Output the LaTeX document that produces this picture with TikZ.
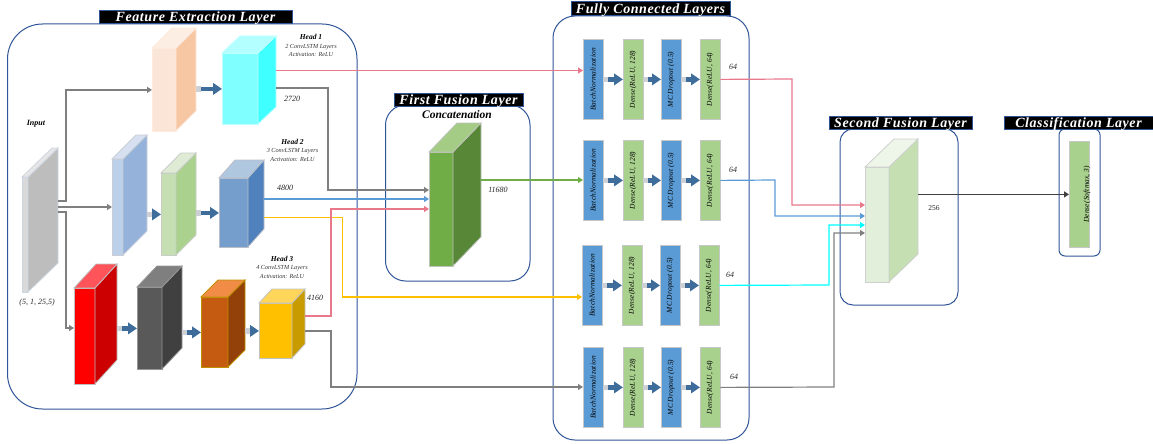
\documentclass[tikz,border=0pt]{standalone}
\usepackage{xcolor}
\usepackage{fontspec}
\setmainfont{Liberation Serif}
\usetikzlibrary{arrows.meta}

\definecolor {frame}   {RGB}{ 47,  85, 151}
\definecolor {pinkline}{RGB}{232, 120, 138}
\definecolor {blueline}{RGB}{ 91, 155, 213}
\definecolor {yellline}{RGB}{255, 192,   0}
\definecolor {cyanline}{RGB}{  0, 255, 255}
\definecolor {grayline}{RGB}{127, 127, 127}
\definecolor {darkline}{RGB}{ 64,  64,  64}
\definecolor {greenline}{RGB}{112, 173, 71}
\definecolor {flowblue}{RGB}{ 62, 109, 156}
\definecolor {flowtail}{RGB}{205, 208, 212}
\definecolor {fcblue}  {RGB}{ 91, 155, 213}
\definecolor {fcgreen} {RGB}{169, 209, 142}

% cube colours: F front, S side, T top, E edge
\definecolor {inputF} {RGB}{217, 217, 217}
\definecolor {inputS} {RGB}{189, 189, 189}
\definecolor {inputT} {RGB}{230, 230, 230}
\definecolor {inputE} {RGB}{205, 215, 225}
\definecolor {peachF} {RGB}{251, 229, 214}
\definecolor {peachS} {RGB}{247, 199, 163}
\definecolor {peachT} {RGB}{252, 238, 227}
\definecolor {peachE} {RGB}{252, 235, 222}
\definecolor {cyanF}  {RGB}{127, 255, 255}
\definecolor {cyanS}  {RGB}{ 64, 255, 255}
\definecolor {cyanT}  {RGB}{179, 255, 255}
\definecolor {cyanE}  {RGB}{190, 255, 255}
\definecolor {paleF}  {RGB}{189, 208, 233}
\definecolor {paleS}  {RGB}{149, 179, 218}
\definecolor {paleT}  {RGB}{214, 224, 240}
\definecolor {paleE}  {RGB}{200, 205, 215}
\definecolor {sageF}  {RGB}{197, 223, 179}
\definecolor {sageS}  {RGB}{171, 209, 142}
\definecolor {sageT}  {RGB}{223, 235, 212}
\definecolor {sageE}  {RGB}{200, 205, 200}
\definecolor {steelF} {RGB}{118, 158, 204}
\definecolor {steelS} {RGB}{ 79, 129, 189}
\definecolor {steelT} {RGB}{176, 199, 224}
\definecolor {steelE} {RGB}{185, 190, 200}
\definecolor {redF}   {RGB}{255,   0,   0}
\definecolor {redS}   {RGB}{204,   0,   0}
\definecolor {redT}   {RGB}{255,  85,  90}
\definecolor {redE}   {RGB}{190, 190, 190}
\definecolor {coalF}  {RGB}{ 89,  89,  89}
\definecolor {coalS}  {RGB}{ 64,  64,  64}
\definecolor {coalT}  {RGB}{127, 127, 127}
\definecolor {coalE}  {RGB}{150, 150, 150}
\definecolor {rustF}  {RGB}{197,  90,  17}
\definecolor {rustS}  {RGB}{147,  65,   9}
\definecolor {rustT}  {RGB}{240, 140,  70}
\definecolor {rustE}  {RGB}{191, 144,   0}
\definecolor {goldF}  {RGB}{255, 192,   0}
\definecolor {goldS}  {RGB}{200, 155,   0}
\definecolor {goldT}  {RGB}{255, 213,  90}
\definecolor {goldE}  {RGB}{195, 195, 190}
\definecolor {concF}  {RGB}{112, 173,  71}
\definecolor {concS}  {RGB}{ 88, 135,  55}
\definecolor {concT}  {RGB}{165, 204, 133}
\definecolor {concE}  {RGB}{190, 195, 190}
\definecolor {mintF}  {RGB}{226, 239, 218}
\definecolor {mintS}  {RGB}{197, 223, 179}
\definecolor {mintT}  {RGB}{238, 245, 233}
\definecolor {mintE}  {RGB}{205, 208, 205}

\tikzset{
	layerbox/.style={draw=frame, line width=1pt},
	layertitle/.style={draw=frame, fill=black, text=white, line width=0.7pt, inner sep=0pt, text height=11.3pt, text depth=2pt, font=\fontsize{14}{15}\selectfont\bfseries\itshape\addfontfeature{LetterSpace=4}},
	link/.style={line width=1.2pt, -{Triangle[width=6pt,length=5pt]}},
	flow/.style={draw=flowblue, line width=4.2pt, -{Triangle[width=11.5pt,length=9pt]}, postaction={draw=flowtail, -, line width=5.8pt, dash pattern=on 5pt off 200pt}},
	fcbox/.style={draw=black!22, line width=0.8pt, minimum width=19.5pt, minimum height=80pt, inner sep=0pt, anchor=north west},
	fctext/.style={rotate=90, font=\fontsize{7.4}{8}\selectfont\itshape\addfontfeature{LetterSpace=2}},
	headname/.style={font=\fontsize{7.5}{8}\selectfont\bfseries\itshape, inner sep=0pt},
	headinfo/.style={font=\fontsize{6.2}{7}\selectfont\itshape, text=black!80, inner sep=0pt},
	sizetext/.style={font=\fontsize{8}{9}\selectfont\itshape, text=black!85, inner sep=0pt}
}

% name, x, y, width, height, depth x, depth y, colour prefix
\newcommand{\layercube}[8]{
	\node[draw=#8E, fill=#8F, line width=0.8pt, inner sep=0pt, anchor=north west, minimum width=#4pt, minimum height=#5pt] (#1) at (#2,#3) {};
	\filldraw[draw=#8E, fill=#8S, line width=0.8pt] (#2+#4,#3) -- ++(#6,-#7) -- ++(0,#5) -- ++(-#6,#7) -- cycle;
	\filldraw[draw=#8E, fill=#8T, line width=0.8pt] (#2,#3) -- ++(#6,-#7) -- ++(#4,0) -- ++(-#6,#7) -- cycle;
	\coordinate (#1-r) at (#2+#4+#6,#3);
}

\begin{document}
\begin{tikzpicture}[x=1pt, y=-1pt]
	\useasboundingbox (0,0) rectangle (1153,444);

	% Draw layer frames
	\draw[layerbox, rounded corners=35pt] (7.5,24) rectangle (357,409);
	\draw[layerbox, rounded corners=20pt] (385.5,105) rectangle (530,281);
	\draw[layerbox, rounded corners=22pt] (553,16) rectangle (749,440);
	\draw[layerbox, rounded corners=13pt] (840,129) rectangle (958,305);
	\draw[layerbox, rounded corners=6pt] (1059,129) rectangle (1100,256);

	% Draw layer titles
	\node[layertitle, minimum width=193pt] (titlefeat) at (195.5,17) {Feature Extraction Layer};
	\node[layertitle, minimum width=129pt] (titlefirst) at (458.5,99.5) {First Fusion Layer};
	\node[layertitle, minimum width=159pt] (titlefc) at (650.5,8.5) {Fully Connected Layers};
	\node[layertitle, minimum width=143pt] (titlesecond) at (900.5,122.5) {Second Fusion Layer};
	\node[layertitle, minimum width=149pt] (titleclass) at (1078.5,122.5) {Classification Layer};

	% Draw cubes
	\layercube{input}{22}{177}{6}{115}{30}{29}{input}
	\layercube{hone}{152}{48}{24}{83}{20}{20}{peach}
	\layercube{honeout}{222}{53}{36}{71}{18}{17}{cyan}
	\layercube{htwo}{112}{159}{11}{96}{24}{24}{pale}
	\layercube{htwomid}{161}{173}{15}{82}{20}{20}{sage}
	\layercube{htwoout}{219}{178}{29}{69}{16}{18}{steel}
	\layercube{hthree}{74}{288}{21}{96}{22}{24}{red}
	\layercube{hthreea}{137}{287}{25}{82}{20}{21}{coal}
	\layercube{hthreeb}{201}{297}{27}{70}{17}{17}{rust}
	\layercube{hthreeout}{259}{303}{33}{55}{13}{14}{gold}
	\layercube{concat}{429}{152}{24}{114}{28}{29}{conc}
	\layercube{second}{865}{167}{24}{115}{29}{28}{mint}

	% Draw fully connected rows
	\foreach \row/\y/\sh in {1/39/0, 2/140/0, 3/245/-1, 4/347/0} {
		\node[fcbox, fill=fcblue] (bn\row) at (583+\sh,\y) {};
		\node[fctext] at (bn\row) {BatchNormalization};
		\node[fcbox, fill=fcgreen] (dn\row) at (623+\sh,\y) {};
		\node[fctext] at (dn\row) {Dense(ReLU, 128)};
		\node[fcbox, fill=fcblue] (mc\row) at (661+\sh,\y) {};
		\node[fctext] at (mc\row) {MC Dropout (0.5)};
		\node[fcbox, fill=fcgreen] (ot\row) at (700+\sh,\y) {};
		\node[fctext] at (ot\row) {Dense(ReLU, 64)};
		\draw[flow] (bn\row) -- (dn\row);
		\draw[flow] (dn\row) -- (mc\row);
		\draw[flow] (mc\row) -- (ot\row);
	}
	\node[fcbox, fill=fcgreen, minimum height=106pt] (final) at (1069,141) {};
	\node[fctext, yshift=-8pt] at (final) {Dense(Softmax, 3)};

	% Draw block arrows inside the heads
	\draw[flow] (hone-r |- honeout.west) -- (honeout.west);
	\draw[flow] (htwo-r |- htwomid.west) -- (htwomid.west);
	\draw[flow] (htwomid-r |- htwoout.west) -- (htwoout.west);
	\draw[flow, yshift=-7pt] (hthree-r |- hthreea.west) -- (hthreea.west);
	\draw[flow] (hthreea-r |- hthreeb.west) -- (hthreeb.west);
	\draw[flow] (hthreeb-r |- hthreeout.west) -- (hthreeout.west);

	% Draw connectors
	\coordinate (inA) at (input-r |- 0,201);
	\coordinate (inB) at (input-r |- 0,207);
	\coordinate (inC) at (input-r |- 0,212);
	\draw[link, grayline] (inA) -- (66,201) |- (hone.west);
	\draw[link, grayline] (inB) -- (htwo.west |- inB);
	\draw[link, grayline] (inC) -- (66,212) |- (hthree.west |- 0,328);

	\coordinate (portA) at (honeout-r |- 0,70.5);
	\coordinate (portB) at (honeout-r |- 0,88);
	\coordinate (portC) at (htwoout-r |- 0,199);
	\coordinate (portD) at (htwoout-r |- 0,217.5);
	\coordinate (portE) at (hthreeout-r |- 0,316);
	\coordinate (portF) at (hthreeout-r |- 0,331);
	\draw[link, pinkline] (portA) -- (bn1.west |- portA);
	\draw[link, grayline] (portB) -- (328,88) |- (concat.west |- 0,190);
	\draw[link, blueline] (portC) -- (concat.west |- portC);
	\draw[link, yellline] (portD) -- (342.5,217.5) |- (bn3.west |- 0,297);
	\draw[link, pinkline] (portE) -- (331,316) |- (concat.west |- 0,209);
	\draw[link, grayline] (portF) -- (331,331) |- (bn4.west |- 0,387);
	\draw[link, greenline] (concat-r |- 0,180) -- (bn2.west |- 0,180);

	\draw[link, pinkline] (ot1.east) -- (792,79) |- (second.west |- 0,205);
	\draw[link, blueline] (ot2.east) -- (775,180) |- (second.west |- 0,216);
	\draw[link, cyanline] (ot3.east) -- (829,285) |- (second.west |- 0,225);
	\draw[link, grayline] (ot4.east) -- (834,387) |- (second.west |- 0,233);
	\draw[link, darkline] (second-r |- final.west) -- (final.west);

	% Draw labels
	\node[headname, font=\fontsize{8}{9}\selectfont\bfseries\itshape] (inputname) at (36,124) {Input};
	\node[sizetext] (inputsize) at (37,303) {(5, 1, 25,5)};

	\node[headname] (headone) at (311,37) {Head 1};
	\node[headinfo] at (311,47) {2 ConvLSTM Layers};
	\node[headinfo] at (311,54) {Activation: ReLU};
	\node[headname] (headtwo) at (292.5,142) {Head 2};
	\node[headinfo] at (292.5,151) {3 ConvLSTM Layers};
	\node[headinfo] at (292.5,159) {Activation: ReLU};
	\node[headname] (headthree) at (282,259) {Head 3};
	\node[headinfo] at (282,268) {4 ConvLSTM Layers};
	\node[headinfo] at (282,276) {Activation: ReLU};

	\node[sizetext] (sizeone) at (292,99) {2720};
	\node[sizetext] (sizetwo) at (285,188) {4800};
	\node[sizetext] (sizethree) at (315,298) {4160};
	\node[sizetext] (sizeconcat) at (498,190) {11680};
	\node[sizetext] (sizerowa) at (733,67) {64};
	\node[sizetext] (sizerowb) at (733,170) {64};
	\node[sizetext] (sizerowc) at (730,275) {64};
	\node[sizetext] (sizerowd) at (734,377) {64};
	\node[sizetext, font=\fontsize{7.5}{8}\selectfont] (sizefinal) at (934,208) {256};

	\node[font=\fontsize{11.5}{12}\selectfont\bfseries\itshape, inner sep=0pt] (concatname) at (457,115) {Concatenation};

\end{tikzpicture}
\end{document}
